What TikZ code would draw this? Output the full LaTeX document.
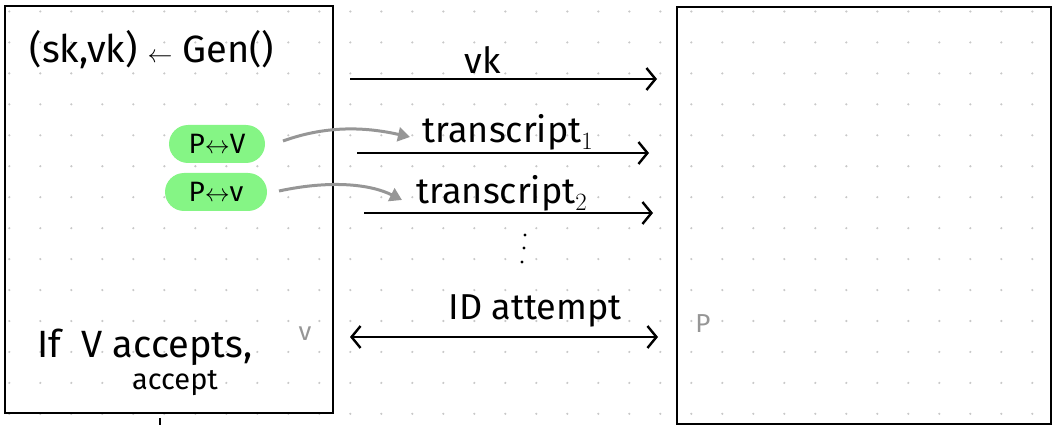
\documentclass[tikz,border=0pt]{standalone}
\usepackage{fontspec}
\setmainfont{Fira Sans}
\usetikzlibrary{arrows.meta,shapes.misc}
\definecolor{hl}{RGB}{133,245,133}
\definecolor{pen}{RGB}{150,150,150}
\definecolor{dotc}{RGB}{200,200,200}
\tikzset{
  boxline/.style={draw=black,line width=2pt},
  big/.style={font=\fontsize{38}{42}\selectfont},
  lbl/.style={font=\fontsize{36}{40}\selectfont},
  small/.style={font=\fontsize{29}{32}\selectfont},
  pill/.style={rounded rectangle,fill=hl,minimum height=38pt,inner sep=3pt,font=\fontsize{28}{30}\selectfont},
  msg/.style={line width=2.4pt,-{Straight Barb[length=9pt,width=22pt,line width=2.4pt]}},
  msgboth/.style={line width=2.4pt,{Straight Barb[length=9pt,width=22pt,line width=2.4pt]}-{Straight Barb[length=9pt,width=22pt,line width=2.4pt]}},
  greyarr/.style={draw=pen,line width=3pt,-{Triangle[length=12pt,width=14pt]}},
  note/.style={text=pen,font=\fontsize{26}{28}\selectfont},
  vdot/.style={fill=black}
}
\begin{document}
\begin{tikzpicture}[x=1pt,y=-1pt]
\useasboundingbox (0,0) rectangle (1053,425);
% dot grid
\foreach \i in {0,...,33}{
  \foreach \j in {0,...,13}{
    \fill[dotc] (9.3+31*\i,11.5+30.95*\j) circle (1.2pt);
  }
}
% boxes
\draw[boxline] (4.5,6) rectangle (333,413);
\draw[boxline] (677,7) rectangle (1051,424);
\coordinate (tk1) at (160,418);
\coordinate (tk2) at (160,425);
\draw[line width=2pt] (tk1) -- (tk2);
% left box text
\node[big] (gen) at (152,50) {(sk,vk) $\leftarrow$ Gen()};
\node[pill,minimum width=102pt] (p1) at (217,144) {P$\leftrightarrow$V};
\node[pill,minimum width=108pt] (p2) at (216,192) {P$\leftrightarrow$v};
\node[big] (ifv) at (145,347) {If\ \ V accepts,};
\node[small] (acc) at (175,383) {accept};
\node[note] (gv) at (305,334) {v};
\node[note] (gp) at (703,324) {P};
% messages
\coordinate (vkL) at (350,79);
\coordinate (vkR) at (657,79);
\draw[msg] (vkL) -- (vkR);
\node[lbl] (vk) at (483,60) {vk};
\coordinate (t1L) at (357,153);
\coordinate (t1R) at (649,153);
\draw[msg] (t1L) -- (t1R);
\node[lbl] (t1) at (508,132) {transcript$_1$};
\coordinate (t2L) at (364,213);
\coordinate (t2R) at (653,213);
\draw[msg] (t2L) -- (t2R);
\node[lbl] (t2) at (502,193) {transcript$_2$};
\fill[vdot] (525,235) circle (1.6pt);
\fill[vdot] (524,248) circle (1.6pt);
\fill[vdot] (522,262) circle (1.6pt);
\coordinate (idL) at (350,337);
\coordinate (idR) at (658,337);
\draw[msgboth] (idL) -- (idR);
\node[lbl] (id) at (535,311) {ID attempt};
% grey arrows
\coordinate (g1) at (410,137);
\coordinate (g2) at (402,200);
\coordinate (s1) at (283,141);
\coordinate (s2) at (279,191);
\draw[greyarr] (s1) .. controls (330,124) and (370,128) .. (g1);
\draw[greyarr] (s2) .. controls (330,180) and (370,184) .. (g2);
\end{tikzpicture}
\end{document}
